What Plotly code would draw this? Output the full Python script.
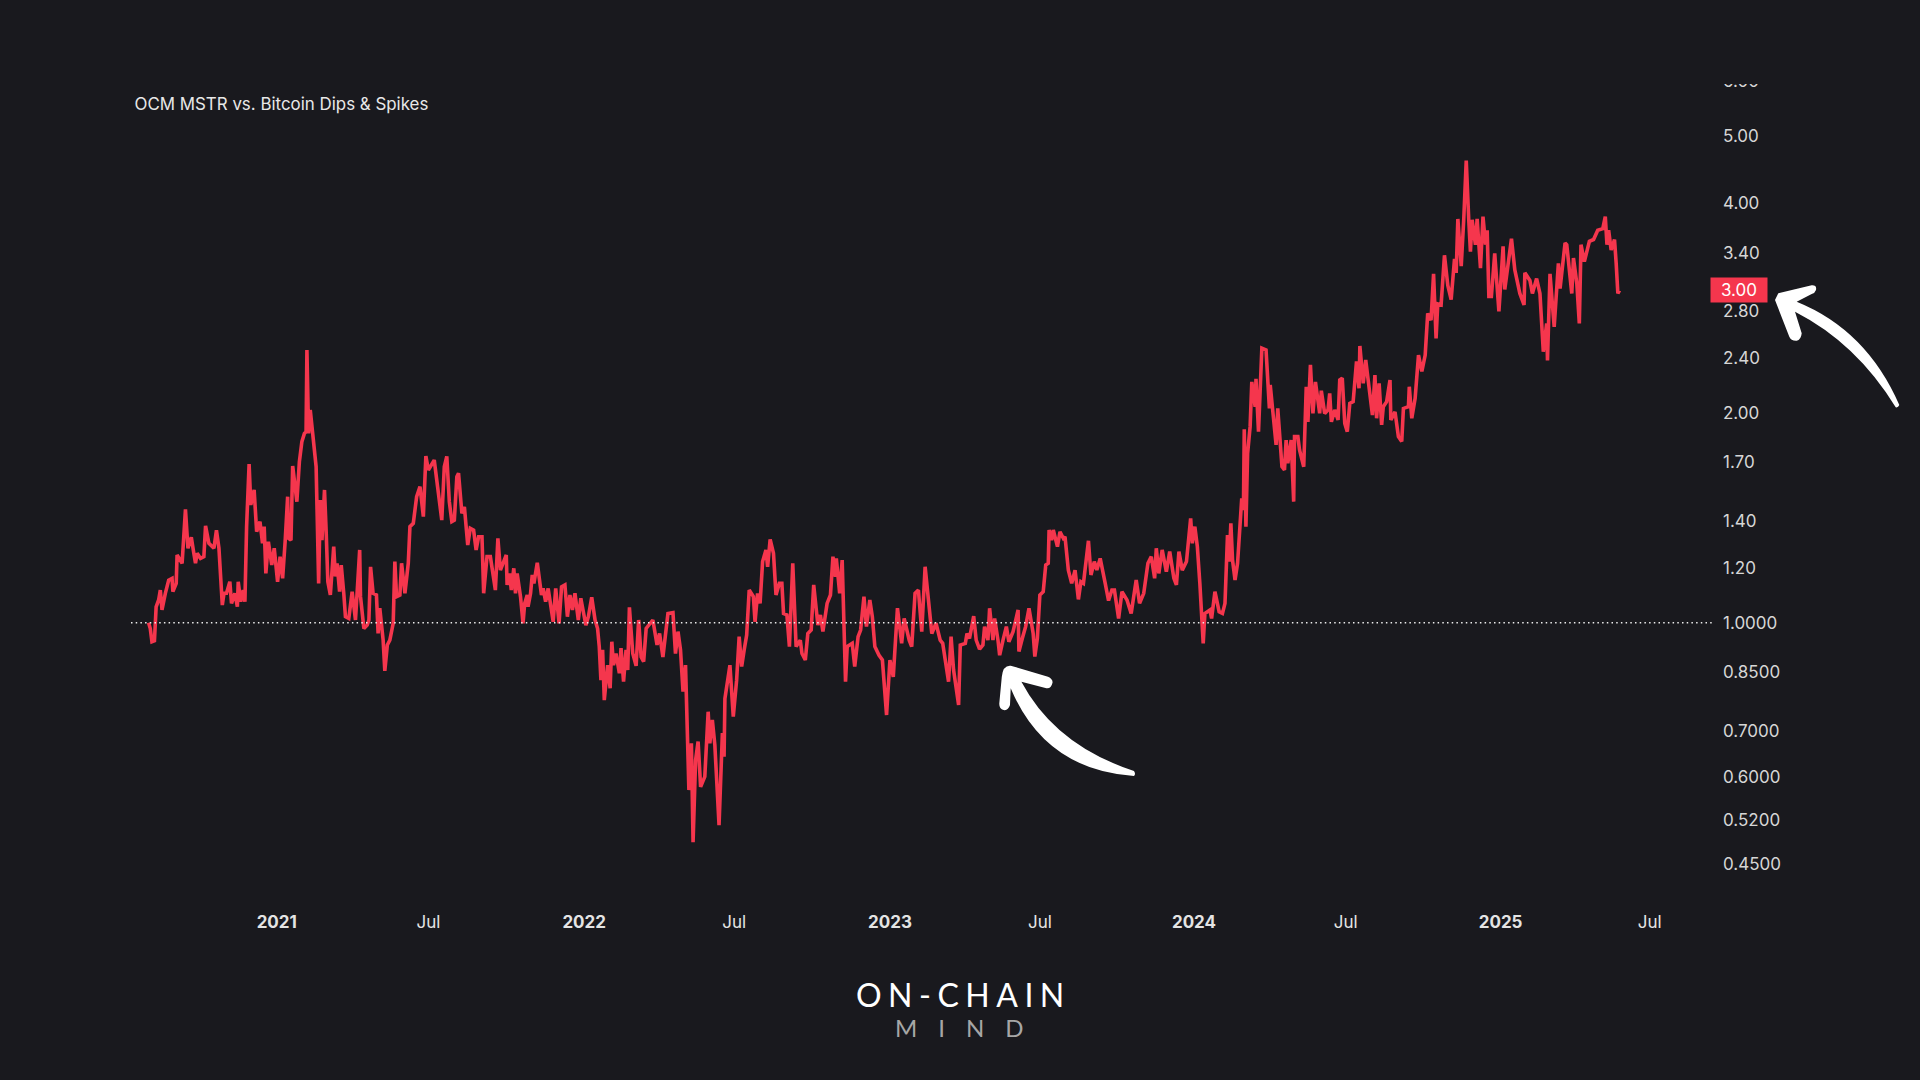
import pandas as pd
import plotly.graph_objects as go

START_DATE = "2020-08-01"
day_offsets = [
0,2,4,7,9,12,14,16,20,24,28,29,33,34,40,44,47,51,54,56,58,62,66,68,72,78,81,84,88,90,93,97,99,103,106,107,110,113,115,117,120,122,126,129,133,136,138,140,143,147,150,154,157,160,163,166,167,170,172,177,180,183,186,188,189,191,193,197,200,203,205,207,210,212,214,217,221,223,225,228,230,233,235,239,243,247,249,252,253,257,261,263,265,268,272,274,276,280,282,285,288,292,294,296,300,302,306,310,312,316,320,324,328,331,334,338,341,345,350,353,356,359,362,365,368,370,374,377,381,384,388,391,394,398,400,404,408,414,417,420,
427,428,431,433,436,438,440,444,447,449,452,453,456,458,460,464,467,469,471,474,477,480,483,486,490,493,497,500,503,506,509,513,516,519,522,525,529,533,536,
538,540,542,544,548,551,553,555,558,562,564,567,570,572,574,578,582,585,588,591,594,599,602,607,610,614,617,620,626,629,632,635,638,641,645,648,650,653,656,659,664,668,670,673,676,681,685,687,688,693,694,698,702,705,708,711,714,717,722,724,727,730,733,737,739,742,746,749,753,756,758,762,765,769,773,778,780,784,787,791,794,799,802,805,810,814,817,820,821,825,828,832,834,840,843,847,850,854,857,861,864,867,872,876,881,885,889,894,899,902,908,911,915,919,923,927,931,935,940,945,948,953,955,958,961,967,
969,975,977,980,985,988,992,996,998,1002,1004,1008,1010,1014,1016,1020,1024,1027,1032,1038,1039,1043,1047,1051,1056,1058,1061,1064,1068,
1071,1074,1075,1078,1080,1085,1088,
1092,1094,1098,1102,1106,1110,1113,1116,1122,1125,1129,1132,1136,1142,1146,1150,1153,1158,1162,1168,1173,1179,1183,1188,1193,1197,1201,1203,1206,1210,1215,1219,1224,1227,1230,1234,1239,1244,1246,1249,1252,1255,1259,1261,1267,1269,1273,1278,1282,1285,1288,1290,1292,1294,1297,1300,1303,1305,1307,1308,1310,1312,1315,1317,1321,1322,1325,1327,1329,1334,1338,1339,1343,1346,1348,1353,1356,1358,1360,1364,1367,1368,1372,1374,1379,1380,1382,1384,1387,1390,1393,1398,1400,1404,1408,1410,1412,1416,1420,1422,1425,1428,1431,1434,1438,1442,1445,1446,1450,1453,1457,1461,1464,1466,1469,1472,1474,1478,1482,1483,1488,1492,1496,1498,1504,1505,1508,1512,1516,1520,1524,1526,
1527,1531,1534,1537,1539,1543,1545,1547,1551,1555,1559,1561,1563,1567,1570,1573,1576,1578,1580,1584,1586,1590,1593,1596,1598,1600,1603,1607,1612,1617,1619,1627,1631,1637,1642,1643,1649,1652,1657,1661,1665,1669,1670,1673,1678,1683,1685,1691,1693,1699,1701,1705,1708,1710,1714,1720,1725,1730,1736,1739,1741,1743,1746,1750,1752,1754,1756,
]
mstr_vs_btc = [
1.00,.981,.939,.942,1.054,1.078,1.114,1.043,1.102,1.151,1.158,1.108,1.139,1.251,1.217,1.455,1.279,1.326,1.258,1.217,1.258,1.237,1.244,1.377,1.300,1.279,1.358,1.279,1.060,1.102,1.102,1.145,1.066,1.102,1.054,1.145,1.072,1.114,1.072,1.374,1.690,1.476,1.551,1.351,1.397,1.300,1.374,1.177,1.307,1.210,1.279,1.145,1.244,1.158,1.307,1.517,1.322,1.314,1.679,1.492,1.702,1.820,1.870,1.880,2.464,1.870,2.020,1.790,1.675,1.139,1.500,1.314,1.551,1.351,1.145,1.096,1.286,1.165,1.217,1.108,1.210,1.102,1.020,1.014,1.108,1.009,1.108,1.272,1.090,.981,.992,1.009,1.203,1.102,1.096,.965,1.049,.944,.853,.929,.944,.998,1.224,1.090,1.096,1.217,1.102,1.217,1.374,1.389,1.517,1.568,1.420,1.735,1.657,1.694,1.712,1.568,1.404,1.675,1.733,1.492,1.397,1.404,1.621,1.639,1.436,1.467,1.293,1.366,1.358,1.272,1.329,1.329,1.102,1.244,1.244,1.114,1.322,1.190,
1.251,1.133,1.177,1.114,1.197,1.102,1.177,1.090,.998,1.066,1.096,1.054,1.102,1.171,1.139,1.219,1.145,1.096,1.120,1.072,1.120,1.066,1.003,1.120,.998,1.126,1.133,1.020,1.096,1.043,1.102,1.009,1.084,1.037,.992,1.020,1.088,1.009,.981,
.924,.827,.914,.774,.869,.805,.939,.869,.903,.846,.919,.823,.914,.855,1.052,.903,.867,1.009,.893,.879,.981,.998,1.009,.929,.965,.893,.955,1.031,1.034,.903,.971,.914,.796,.869,.575,.671,.484,.635,.675,.581,.601,.745,.671,.725,.667,.512,.694,.642,.778,.865,.869,.733,.827,.955,.865,.914,.960,1.114,1.090,1.003,1.102,1.066,1.224,1.272,1.203,1.317,1.258,1.096,1.139,1.139,1.031,1.026,.924,1.217,.924,.944,.903,.884,.965,.976,1.133,.992,1.026,.971,1.066,1.096,1.244,1.164,1.237,1.102,1.230,.823,.924,.934,.865,.955,.976,1.090,.987,1.078,1.020,.924,.898,.884,.737,.884,.836,1.049,.934,1.014,.944,.924,1.102,1.114,.971,1.203,1.066,.965,.998,.944,.934,.846,.823,.955,.855,.762,
.929,.934,.965,.949,1.022,.944,.916,.929,.987,.944,1.049,.944,1.014,.944,.898,.944,.987,.939,.971,1.043,.909,.949,.987,1.049,.965,.894,.949,1.096,1.108,
1.210,1.217,1.359,1.314,1.359,1.286,1.351,
1.322,1.329,1.190,1.139,1.190,1.080,1.145,1.139,1.311,1.171,1.224,1.190,1.237,1.139,1.076,1.114,1.114,1.014,1.108,1.078,1.031,1.152,1.066,1.102,1.217,1.244,1.158,1.279,1.177,1.272,1.184,1.265,1.158,1.133,1.265,1.190,1.224,1.412,1.300,1.374,1.286,1.139,.934,1.031,1.043,1.014,1.108,1.037,1.031,1.066,1.336,1.224,1.389,1.230,1.152,1.217,1.404,1.509,1.451,1.895,1.374,1.751,1.912,2.217,2.042,2.240,1.881,2.245,2.479,2.464,2.031,2.195,1.934,1.800,2.031,1.675,1.657,1.829,1.694,1.829,1.492,1.851,1.851,1.771,1.675,1.851,2.182,1.943,2.345,1.998,2.217,1.998,2.154,1.998,2.021,2.134,1.943,2.021,1.955,2.231,2.245,1.933,1.881,2.065,2.077,2.372,2.171,2.497,2.206,2.384,2.182,1.987,2.268,1.966,2.206,1.923,2.043,2.077,2.231,1.955,2.008,1.851,1.821,2.031,2.043,2.182,1.966,2.100,2.423,2.295,2.423,2.634,
2.78,2.72,3.17,2.56,2.87,2.86,3.18,3.37,3.05,2.91,3.33,3.18,3.80,3.25,3.79,4.61,3.79,3.41,3.79,3.49,3.80,3.23,3.83,3.49,3.66,2.94,2.94,3.39,2.80,3.47,3.01,3.56,3.21,2.97,2.86,3.18,3.10,2.97,3.12,2.97,2.45,2.69,2.38,3.17,2.66,3.28,3.02,3.51,3.49,2.97,3.34,3.07,2.69,3.49,3.30,3.53,3.55,3.66,3.68,3.83,3.49,3.66,3.43,3.55,3.28,2.97,3.00,
]
assert len(day_offsets) == len(mstr_vs_btc), (len(day_offsets), len(mstr_vs_btc))

y_ticks = [6.0, 5.0, 4.0, 3.4, 2.8, 2.4, 2.0, 1.7, 1.4, 1.2, 1.0, 0.85, 0.7, 0.6, 0.52, 0.45]
y_labels = ["6.00", "5.00", "4.00", "3.40", "2.80", "2.40", "2.00", "1.70", "1.40", "1.20",
            "1.0000", "0.8500", "0.7000", "0.6000", "0.5200", "0.4500"]
x_ticks = ["2021-01-01", "2021-07-01", "2022-01-03", "2022-07-01", "2023-01-03", "2023-07-01",
           "2024-01-01", "2024-06-30", "2025-01-01", "2025-06-28"]
x_labels = ["<b>2021</b>", "Jul", "<b>2022</b>", "Jul", "<b>2023</b>", "Jul",
            "<b>2024</b>", "Jul", "<b>2025</b>", "Jul"]
last_value = 3.00

BG = "#19191e"
RED = "#f5364d"
W, H = 1920, 1080
dates = pd.Timestamp(START_DATE) + pd.to_timedelta(day_offsets, unit="D")


def px(x, y):
    return f"{x / W:.5f},{1 - y / H:.5f}"


def arrow_path(points):
    out = []
    for cmd, *pts in points:
        out.append(cmd + " ".join(px(*p).replace(",", " ") for p in pts))
    return " ".join(out) + " Z"


right_arrow = arrow_path([
    ("M", (1775, 300)), ("L", (1778.3, 293.3)), ("L", (1811.7, 285.3)),
    ("Q", (1817, 285), (1816, 290)), ("Q", (1815, 293), (1811.7, 294)), ("L", (1796.7, 301.7)),
    ("Q", (1866.7, 330), (1899.3, 405)), ("Q", (1898, 408), (1895.7, 407.3)),
    ("Q", (1856.7, 343.3), (1795, 311.7)), ("L", (1801.7, 333.3)),
    ("Q", (1801, 340), (1796.7, 340.7)), ("Q", (1791, 341), (1789.3, 336.7)),
])
left_arrow = arrow_path([
    ("M", (1010.7, 665.7)), ("L", (1048, 676.7)), ("Q", (1053, 679), (1052.5, 682.7)),
    ("Q", (1051, 689), (1046.4, 688.3)), ("L", (1021.4, 681.7)),
    ("Q", (1055, 745), (1134, 771)), ("Q", (1136, 774), (1134, 776)),
    ("Q", (1045, 770), (1010.7, 688.3)), ("L", (1010, 705)),
    ("Q", (1008, 711), (1003.6, 710)), ("Q", (999, 709), (999.3, 703.3)),
    ("L", (1001.8, 676.7)), ("Q", (1003, 665), (1010.7, 665.7)),
])

fig = go.Figure(go.Scatter(
    x=dates, y=mstr_vs_btc, mode="lines",
    line=dict(color=RED, width=3.6, shape="linear"),
    hoverinfo="skip", showlegend=False,
))

fig.update_layout(
    width=W, height=H,
    paper_bgcolor=BG, plot_bgcolor=BG,
    margin=dict(l=0, r=0, t=0, b=0),
    font=dict(family="Inter", color="#d6d6d6", size=17),
    title=dict(text="OCM MSTR vs. Bitcoin Dips & Spikes", x=134.5 / W, xref="paper", xanchor="left",
               y=1 - 104 / H, yref="paper", yanchor="middle",
               font=dict(family="Inter", size=16.9, color="#e8e8e8")),
    xaxis=dict(domain=[131 / W, 1710 / W], range=["2020-07-11", "2025-09-08"], type="date",
               tickvals=x_ticks, ticktext=x_labels, showgrid=False, zeroline=False, showline=False,
               ticks="", tickfont=dict(family="Inter", size=17, color="#e4e4e4"), ticklabelstandoff=5),
    yaxis=dict(domain=[1 - 905 / H, 1 - 70 / H], type="log", range=[-0.4054, 0.7937], side="right",
               tickvals=y_ticks, ticktext=y_labels, showgrid=False, zeroline=False, showline=False,
               ticks="", tickfont=dict(family="Inter", size=17, color="#d6d6d6"), ticklabelstandoff=12),
    shapes=[
        dict(type="line", xref="paper", yref="y", x0=131 / W, x1=1712 / W, y0=1, y1=1, layer="above",
             line=dict(color="#ececec", width=1.5, dash="1.5px,3.2px")),
        dict(type="rect", xref="paper", yref="paper", x0=1700 / W, x1=1800 / W, y0=1 - 84 / H, y1=1 - 60 / H,
             layer="above", fillcolor=BG, line=dict(width=0)),
        dict(type="path", xref="paper", yref="paper", path=right_arrow, fillcolor="#ffffff",
             line=dict(width=0), layer="above"),
        dict(type="path", xref="paper", yref="paper", path=left_arrow, fillcolor="#ffffff",
             line=dict(width=0), layer="above"),
    ],
    annotations=[
        dict(xref="paper", yref="y", x=1710 / W, y=0.47712, xanchor="left", yanchor="middle",
             text=f"{last_value:.2f}", showarrow=False, bgcolor=RED, width=56, height=24, align="center",
             borderpad=0, font=dict(family="Inter", size=17, color="#ffffff")),
        dict(xref="paper", yref="paper", x=963 / W, y=1 - 994 / H, xanchor="center", yanchor="middle",
             text="ON-CHAIN", showarrow=False, font=dict(family="Lato", size=32, color="#ffffff", weight=400)),
        dict(xref="paper", yref="paper", x=970 / W, y=1 - 1027 / H, xanchor="center", yanchor="middle",
             text="MIND", showarrow=False, font=dict(family="Lato", size=24, color="#a6a6a6", weight=400)),
    ],
)

post = """
document.body.style.margin = '0';
document.body.style.background = '#19191e';
document.querySelectorAll('text.annotation-text').forEach(function (t) {
  if (t.textContent === 'ON-CHAIN') t.style.letterSpacing = '6.5px';
  if (t.textContent === 'MIND') t.style.letterSpacing = '21px';
});
"""
fig.write_html("out.html", post_script=post, config={"displayModeBar": False})
